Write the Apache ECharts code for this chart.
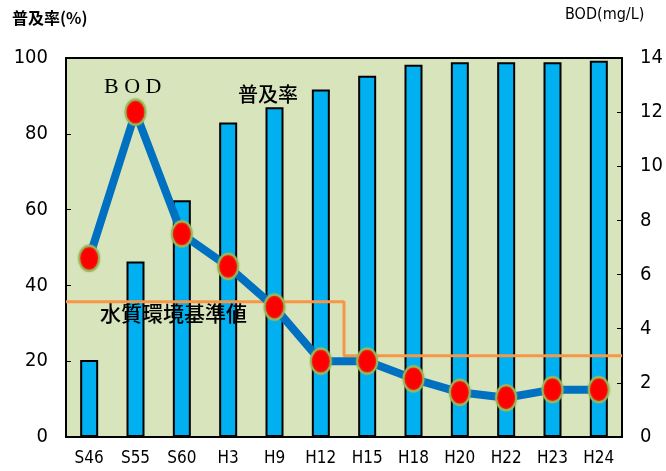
<!DOCTYPE html>
<html>
<head>
<meta charset="utf-8">
<script src="https://cdn.jsdelivr.net/npm/echarts@6/dist/echarts.min.js"></script>
<style>
  html, body { margin: 0; padding: 0; background: #fff; }
  #chart { width: 666px; height: 471px; }
</style>
</head>
<body>
<div id="chart"></div>
<script>
// 年度
const years = ['S46', 'S55', 'S60', 'H3', 'H9', 'H12', 'H15', 'H18', 'H20', 'H22', 'H23', 'H24']
// 普及率(%)
const rate = [20.3, 46.3, 62.5, 83, 87, 91.7, 95.3, 98.2, 98.9, 98.9, 98.9, 99.3]
// BOD(mg/L)
const bod = [6.6, 12.0, 7.5, 6.3, 4.8, 2.8, 2.8, 2.15, 1.65, 1.45, 1.75, 1.75]
// 水質環境基準値 (x: 区間位置 0-12)
const stdX = [0, 6, 6, 12]
const stdY = [5, 5, 3, 3]

const narrow = "'Liberation Sans Narrow', 'DejaVu Sans Condensed', sans-serif"
const cjk = "'Noto Sans CJK JP', sans-serif"

const chart = echarts.init(document.getElementById('chart'))

const option = {
  animation: false,
  grid: {
    left: 66,
    right: 44,
    top: 58,
    bottom: 34,
    show: true,
    backgroundColor: '#d8e4bc',
    borderColor: '#000',
    borderWidth: 2
  },
  xAxis: [
    {
      type: 'category',
      data: years,
      axisLine: { lineStyle: { color: '#000', width: 2 } },
      axisTick: { inside: true, length: 5, lineStyle: { color: '#000' } },
      axisLabel: { color: '#000', fontSize: 17, fontFamily: narrow, margin: 13 }
    },
    {
      type: 'value',
      min: 0,
      max: 12,
      show: false
    }
  ],
  yAxis: [
    {
      type: 'value',
      min: 0,
      max: 100,
      interval: 20,
      axisLine: { show: true, lineStyle: { color: '#000', width: 2 } },
      axisTick: { show: true, inside: true, length: 5, lineStyle: { color: '#000' } },
      splitLine: { show: false },
      axisLabel: { color: '#000', fontSize: 20, fontFamily: narrow, margin: 18 }
    },
    {
      type: 'value',
      min: 0,
      max: 14,
      interval: 2,
      position: 'right',
      axisLine: { show: true, lineStyle: { color: '#000', width: 2 } },
      axisTick: { show: true, inside: true, length: 5, lineStyle: { color: '#000' } },
      splitLine: { show: false },
      axisLabel: { color: '#000', fontSize: 20, fontFamily: narrow, margin: 18 }
    }
  ],
  series: [
    {
      name: '普及率',
      type: 'bar',
      data: rate,
      barWidth: 18,
      itemStyle: { color: '#00b0f0', borderColor: '#000', borderWidth: 2 }
    },
    {
      name: '水質環境基準値',
      type: 'line',
      xAxisIndex: 1,
      yAxisIndex: 1,
      data: stdX.map((x, i) => [x, stdY[i]]),
      symbol: 'none',
      lineStyle: { color: '#f79646', width: 3 }
    },
    {
      name: 'BOD',
      type: 'line',
      yAxisIndex: 1,
      data: bod,
      symbol: 'circle',
      symbolSize: [20, 25],
      lineStyle: { color: '#0070c0', width: 8 },
      itemStyle: {
        color: '#ff0000',
        borderColor: 'rgba(150,185,90,0.9)',
        borderWidth: 2,
        shadowBlur: 2,
        shadowColor: 'rgba(155,187,89,0.8)'
      }
    }
  ],
  graphic: [
    {
      type: 'text', left: 12, top: 10, z: 100,
      style: { text: '普及率(%)', fontSize: 16, fontWeight: 'bold', fontFamily: cjk, fill: '#000' }
    },
    {
      type: 'text', left: 565, top: 7, z: 100,
      style: { text: 'BOD(mg/L)', fontSize: 16, fontFamily: narrow, fill: '#000' }
    },
    {
      type: 'text', left: 104, top: 76, z: 100,
      style: { text: 'B O D', fontSize: 22, fontFamily: "'Liberation Serif', serif", fill: '#000' }
    },
    {
      type: 'text', left: 238, top: 84, z: 100,
      style: { text: '普及率', fontSize: 20, fontWeight: 500, fontFamily: cjk, fill: '#000' }
    },
    {
      type: 'text', left: 100, top: 303, z: 100,
      style: { text: '水質環境基準値', fontSize: 21, fontWeight: 500, fontFamily: cjk, fill: '#000' }
    }
  ]
}

chart.setOption(option)
</script>
</body>
</html>
